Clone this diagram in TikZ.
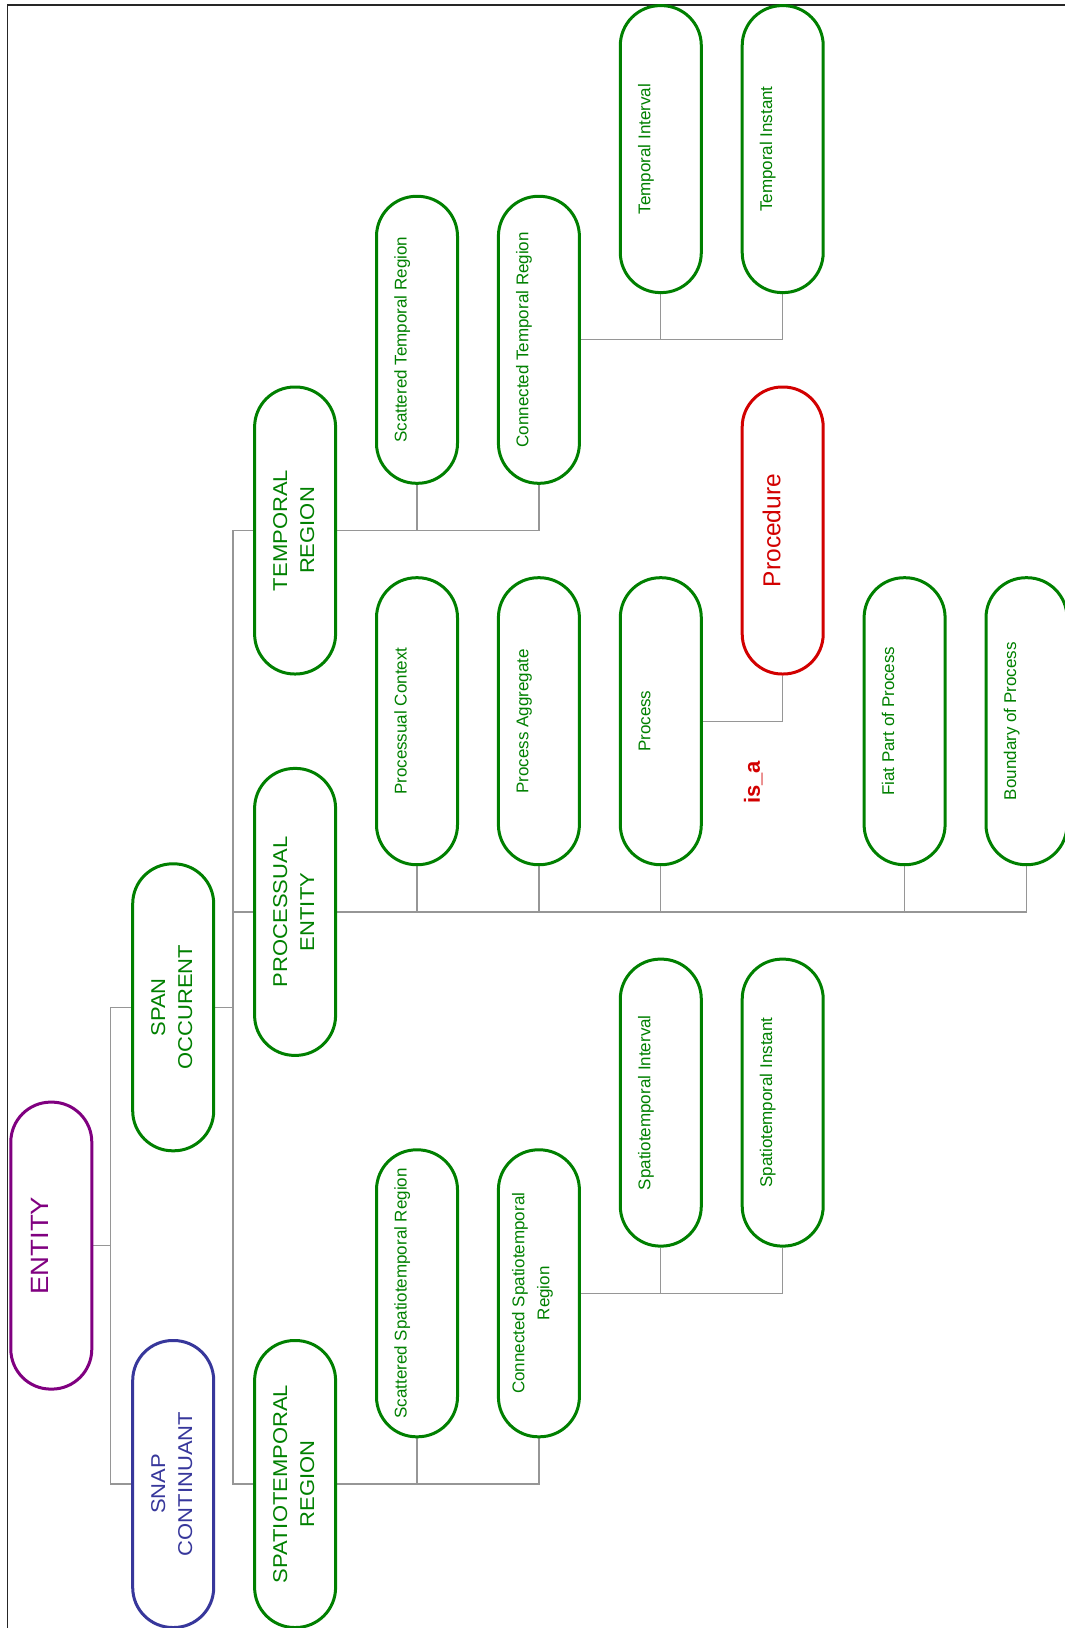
\documentclass[tikz,border=0pt]{standalone}
\usepackage{fontspec}
\setmainfont{Liberation Sans}
\newfontfamily\capfont[FakeStretch=1.1]{Liberation Sans}
\usetikzlibrary{backgrounds}
\definecolor{ogreen}{RGB}{0,128,0}
\definecolor{opurple}{RGB}{128,0,128}
\definecolor{oblue}{RGB}{55,55,155}
\definecolor{ored}{RGB}{210,0,0}
\definecolor{conngray}{RGB}{150,150,150}
\newcommand\smlab[2][31pt]{\rotatebox{90}{\fontsize{17}{25}\selectfont\begin{tabular}{@{}c@{}}#2\end{tabular}}\hspace*{#1}}
\newcommand\caplab[2][0pt]{\rotatebox{90}{\capfont\fontsize{20}{27}\selectfont\begin{tabular}{@{}c@{}}#2\end{tabular}}\hspace*{#1}}
\tikzset{
  nbox/.style={draw=ogreen, text=ogreen, fill=white, line width=3pt, rounded corners=40pt,
    minimum width=81pt, minimum height=287pt, inner sep=0pt},
  conn/.style={draw=conngray, line width=1.2pt},
  frameline/.style={draw=black!85, line width=1.5pt}
}
\begin{document}
\begin{tikzpicture}[x=1pt,y=-1pt]
\useasboundingbox (0,0) rectangle (1065,1628);
\clip (0,0) rectangle (1065,1628);
\coordinate (fr) at (1065,5);
\coordinate (fc) at (7.3,5);
\coordinate (fb) at (7.3,1628);
\draw[frameline] (fr) -- (fc) -- (fb);
\coordinate (b1) at (110.7,0);
\coordinate (b2) at (233,0);

% column 0-2
\node[nbox, draw=opurple, text=opurple] (entity) at (51.3,1245.6)
  {\rotatebox{90}{\capfont\fontsize{25}{30}\selectfont ENTITY}\hspace*{23pt}};
\node[nbox] (span) at (173.2,1007.3) {\caplab{SPAN\\OCCURENT}};
\node[nbox, draw=oblue, text=oblue] (snap) at (173.2,1484.0) {\caplab{SNAP\\CONTINUANT}};
\node[nbox] (treg) at (295.1,530.5) {\caplab{TEMPORAL\\REGION}};
\node[nbox] (pent) at (295.1,911.9) {\caplab{PROCESSUAL\\ENTITY}};
\node[nbox] (streg) at (295.1,1484.0) {\caplab{SPATIOTEMPORAL\\REGION}};

% temporal branch
\node[nbox] (sctr) at (417.0,339.8) {\smlab{Scattered Temporal Region}};
\node[nbox] (cotr) at (538.9,339.8) {\smlab{Connected Temporal Region}};
\node[nbox] (tint) at (660.8,149.1) {\smlab{Temporal Interval}};
\node[nbox] (tins) at (782.7,149.1) {\smlab{Temporal Instant}};

% processual branch
\node[nbox] (pctx) at (417.0,721.2) {\smlab{Processual Context}};
\node[nbox] (pagg) at (538.9,721.2) {\smlab{Process Aggregate}};
\node[nbox] (proc) at (660.8,721.2) {\smlab{Process}};
\node[nbox, draw=ored, text=ored] (procd) at (782.7,530.5)
  {\rotatebox{90}{\fontsize{24.5}{29}\selectfont Procedure}\hspace*{22pt}};
\node[nbox] (fiat) at (904.6,721.2) {\smlab{Fiat Part of Process}};
\node[nbox] (bnd) at (1026.5,721.2) {\smlab{Boundary of Process}};
\node[text=ored, font=\bfseries\fontsize{22}{26}\selectfont, rotate=90, inner sep=0pt] (isa) at (753.3,782.5) {is\_a};

% spatiotemporal branch
\node[nbox] (scstr) at (417.0,1293.3) {\smlab{Scattered Spatiotemporal Region}};
\node[nbox] (costr) at (538.9,1293.3) {\smlab[14pt]{Connected Spatiotemporal\\Region}};
\node[nbox] (ststint) at (660.8,1102.6) {\smlab{Spatiotemporal Interval}};
\node[nbox] (ststins) at (782.7,1102.6) {\smlab{Spatiotemporal Instant}};

\begin{pgfonlayer}{background}
\fill[white] (0,0) rectangle (1065,1628);
\draw[conn] (entity.east) -- (entity.east -| b1);
\draw[conn] (span.west) -- (span.west -| b1) -- (snap.west -| b1) -- (snap.west);
\draw[conn] (span.east) -- (span.east -| b2);
\draw[conn] (treg.west) -- (treg.west -| b2) -- (streg.west -| b2) -- (streg.west);
\draw[conn] (pent.west) -- (pent.west -| b2);
\draw[conn] (treg.east) -| (cotr.south);
\draw[conn] (sctr.south) -- (sctr.south |- treg.east);
\draw[conn] (cotr.east) -| (tins.south);
\draw[conn] (tint.south) -- (tint.south |- cotr.east);
\draw[conn] (pent.east) -| (bnd.south);
\draw[conn] (pctx.south) -- (pctx.south |- pent.east);
\draw[conn] (pagg.south) -- (pagg.south |- pent.east);
\draw[conn] (proc.south) -- (proc.south |- pent.east);
\draw[conn] (fiat.south) -- (fiat.south |- pent.east);
\draw[conn] (proc.east) -| (procd.south);
\draw[conn] (streg.east) -| (costr.south);
\draw[conn] (scstr.south) -- (scstr.south |- streg.east);
\draw[conn] (costr.east) -| (ststins.south);
\draw[conn] (ststint.south) -- (ststint.south |- costr.east);
\end{pgfonlayer}
\end{tikzpicture}
\end{document}
